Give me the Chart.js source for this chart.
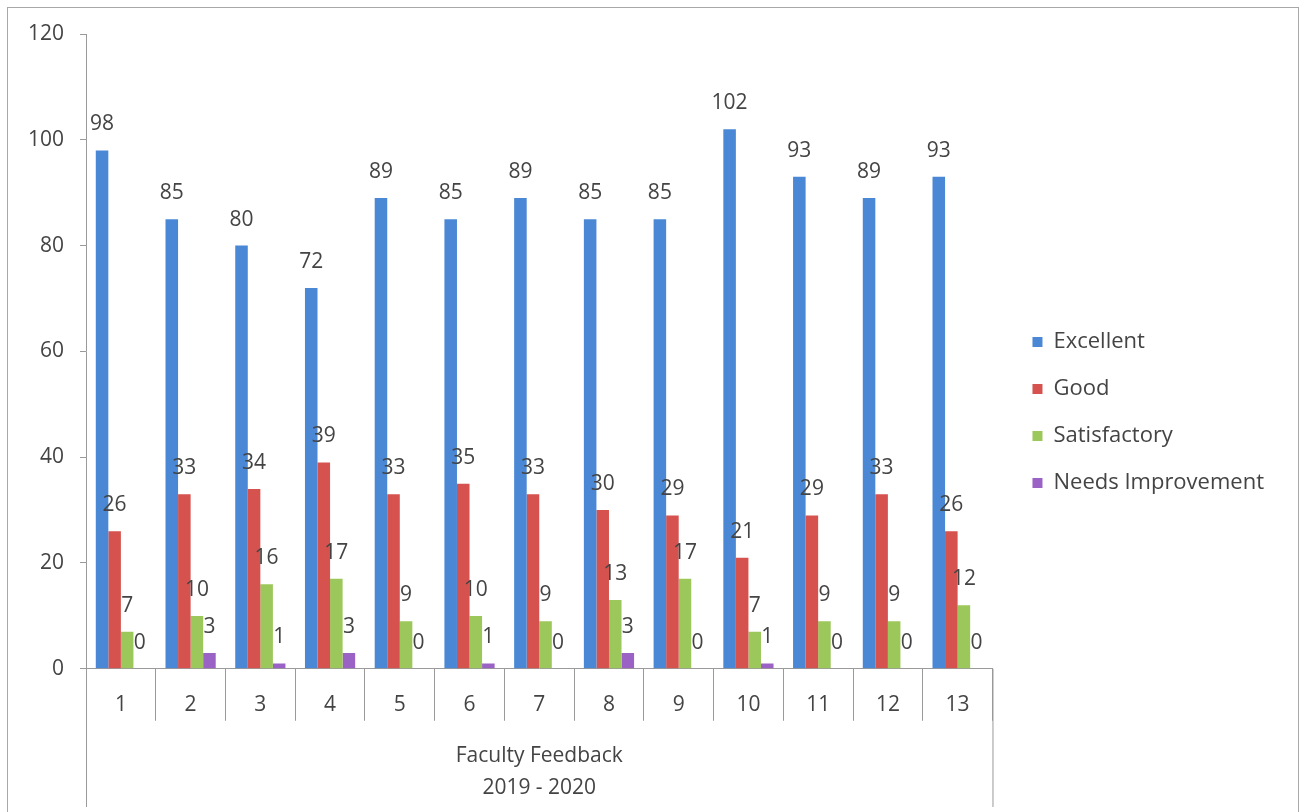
<!DOCTYPE html>
<html>
<head>
<meta charset="utf-8">
<script src="https://cdn.jsdelivr.net/npm/chart.js@4.4.1/dist/chart.umd.min.js"></script>
<style>
  html, body { margin: 0; padding: 0; background: #fff; overflow: hidden; }
  #frame {
    position: absolute; left: 7px; top: 7px;
    width: 1290px; height: 805px;
    border: 1px solid #a8a8a8; border-bottom: none;
  }
</style>
</head>
<body>
<div id="frame"><canvas id="chart"></canvas></div>
<script>
// categories (faculty number) and the four feedback series
const categories = ['1', '2', '3', '4', '5', '6', '7', '8', '9', '10', '11', '12', '13'];
const excellent = [98, 85, 80, 72, 89, 85, 89, 85, 85, 102, 93, 89, 93];
const good = [26, 33, 34, 39, 33, 35, 33, 30, 29, 21, 29, 33, 26];
const satisfactory = [7, 10, 16, 17, 9, 10, 9, 13, 17, 7, 9, 9, 12];
const needsImprovement = [0, 3, 1, 3, 0, 1, 0, 3, 0, 1, 0, 0, 0];
const axisTitle = ['Faculty Feedback', '2019 - 2020'];

const FONT = '"Open Sans", Lato, sans-serif';
const FS = 21;
const TEXT = '#444';
const LINE = '#9a9a9a';
const LEGEND_GAP = 15;  // extra room between plot and legend
const LEGEND_LIFT = 8;  // legend sits a little above the middle

// value labels above every bar
const valueLabels = {
  id: 'valueLabels',
  afterDatasetsDraw(chart) {
    const ctx = chart.ctx;
    ctx.save();
    ctx.font = FS + 'px ' + FONT;
    ctx.fillStyle = TEXT;
    ctx.textAlign = 'center';
    ctx.textBaseline = 'middle';
    chart.data.datasets.forEach((ds, i) => {
      chart.getDatasetMeta(i).data.forEach((bar, j) => {
        ctx.fillText(String(ds.data[j]), bar.x, bar.y - 26);
      });
    });
    ctx.restore();
  }
};

// outer lines of the two-level category axis
const axisBox = {
  id: 'axisBox',
  afterDraw(chart) {
    const ctx = chart.ctx;
    const a = chart.chartArea;
    const xs = chart.scales.x;
    ctx.save();
    ctx.strokeStyle = LINE;
    ctx.lineWidth = 1;
    ctx.beginPath();
    ctx.moveTo(a.left + 0.5, a.bottom);
    ctx.lineTo(a.left + 0.5, xs.bottom);
    ctx.moveTo(a.right + 0.5, a.bottom);
    ctx.lineTo(a.right + 0.5, xs.bottom);
    ctx.stroke();
    ctx.restore();
  }
};

// widen the legend box and keep its items on the right side of it
const legendGap = {
  id: 'legendGap',
  beforeLayout(chart) {
    const lg = chart.legend;
    if (lg && !lg._gapPatched) {
      const fit = lg.fit;
      lg.fit = function () { fit.call(this); this.width += LEGEND_GAP; };
      lg._gapPatched = true;
    }
  },
  afterLayout(chart) {
    const lg = chart.legend;
    if (!lg) return;
    lg.left += LEGEND_GAP;
    lg.top -= LEGEND_LIFT;
    lg.bottom -= LEGEND_LIFT;
  }
};

new Chart(document.getElementById('chart'), {
  type: 'bar',
  data: {
    labels: categories,
    datasets: [
      { label: 'Excellent', data: excellent, backgroundColor: '#4a88d6' },
      { label: 'Good', data: good, backgroundColor: '#d6524e' },
      { label: 'Satisfactory', data: satisfactory, backgroundColor: '#9cc75a' },
      { label: 'Needs Improvement', data: needsImprovement, backgroundColor: '#9b62c6' }
    ]
  },
  options: {
    responsive: true,
    maintainAspectRatio: false,
    animation: false,
    datasets: { bar: { categoryPercentage: 0.72, barPercentage: 1 } },
    layout: { padding: { top: 26, left: 4, right: 24, bottom: 6 } },
    plugins: {
      legend: {
        position: 'right',
        labels: {
          boxWidth: 10,
          boxHeight: 10,
          padding: 25,
          color: TEXT,
          font: { family: FONT, size: 22 }
        }
      },
      tooltip: { enabled: false }
    },
    scales: {
      x: {
        grid: { offset: true, drawOnChartArea: false, tickLength: 52, color: LINE },
        border: { color: LINE },
        ticks: { padding: -28, color: TEXT, font: { family: FONT, size: FS } },
        title: {
          display: true,
          text: axisTitle,
          color: TEXT,
          font: { family: FONT, size: FS, lineHeight: 1.524 },
          padding: { top: 50, bottom: 3 }
        }
      },
      y: {
        min: 0,
        max: 120,
        ticks: { stepSize: 20, padding: 16, color: TEXT, font: { family: FONT, size: FS } },
        grid: { drawOnChartArea: false, tickLength: 6, color: LINE },
        border: { color: LINE },
        afterFit(scale) { scale.paddingTop = 10; }
      }
    }
  },
  plugins: [valueLabels, axisBox, legendGap]
});
</script>
</body>
</html>
